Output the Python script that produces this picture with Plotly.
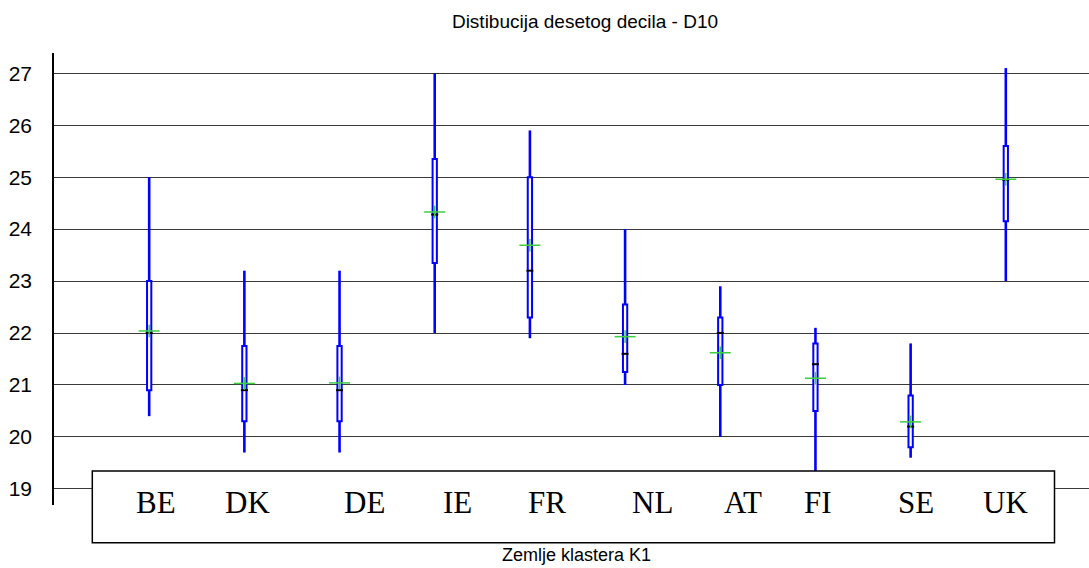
import plotly.graph_objects as go

# ---- data ----
countries = ["BE", "DK", "DE", "IE", "FR", "NL", "AT", "FI", "SE", "UK"]
whisker_low = [20.4, 19.7, 19.7, 22.0, 21.9, 21.0, 20.0, 19.2, 19.6, 23.0]
q1 = [20.9, 20.3, 20.3, 23.35, 22.3, 21.25, 21.0, 20.5, 19.8, 24.15]
median = [22.0, 20.9, 20.9, 24.28, 23.2, 21.6, 22.0, 21.4, 20.2, 24.95]
q3 = [23.0, 21.75, 21.75, 25.35, 25.0, 22.55, 22.3, 21.8, 20.8, 25.6]
whisker_high = [25.0, 23.2, 23.2, 27.0, 25.9, 24.0, 22.9, 22.1, 21.8, 27.1]
mean = [22.04, 21.03, 21.04, 24.33, 23.69, 21.93, 21.62, 21.13, 20.29, 24.96]
y_ticks = [19, 20, 21, 22, 23, 24, 25, 26, 27]

title_text = "Distibucija desetog decila - D10"
x_title_text = "Zemlje klastera K1"

# ---- layout constants (pixels) ----
W, H = 1089, 568
PL, PR, PT, PB = 54, 1089, 53, 505
label_px = [156, 247, 364, 457, 547, 652, 743, 818, 916, 1005]

def px_x(p):
    return (p - PL) / (PR - PL)

def px_y(p):
    return (PB - p) / (PB - PT)

xs = list(range(1, len(countries) + 1))
BLUE = "#0000ff"

fig = go.Figure()

# boxes (white fill, blue outline)
fig.add_trace(go.Bar(
    x=xs, base=q1, y=[b - a for a, b in zip(q1, q3)], width=0.045,
    marker=dict(color="white", line=dict(color=BLUE, width=2)),
    hoverinfo="skip", showlegend=False))

# whiskers
wx, wy = [], []
for x, lo, a, b, hi in zip(xs, whisker_low, q1, q3, whisker_high):
    wx += [x, x, None, x, x, None]
    wy += [lo, a, None, b, hi, None]
fig.add_trace(go.Scatter(x=wx, y=wy, mode="lines",
                         line=dict(color=BLUE, width=2.6),
                         hoverinfo="skip", showlegend=False))

# medians
fig.add_trace(go.Scatter(x=xs, y=median, mode="markers",
                         marker=dict(symbol="line-ew", size=5,
                                     line=dict(color="black", width=2)),
                         hoverinfo="skip", showlegend=False))

# means (green plus)
fig.add_trace(go.Scatter(x=xs, y=mean, mode="markers",
                         marker=dict(symbol="line-ew", size=15,
                                     line=dict(color="#3ccf3c", width=1.5)),
                         hoverinfo="skip", showlegend=False))
fig.add_trace(go.Scatter(x=xs, y=mean, mode="markers",
                         marker=dict(symbol="line-ns", size=9,
                                     line=dict(color="#3ccf3c", width=1.5)),
                         hoverinfo="skip", showlegend=False))

# legend-like box with country labels
fig.add_shape(type="rect", xref="paper", yref="paper",
              x0=px_x(92.3), x1=px_x(1054.5), y0=px_y(542.7), y1=px_y(471),
              line=dict(color="black", width=1.5), fillcolor="white",
              layer="above")
for name, p in zip(countries, label_px):
    fig.add_annotation(x=px_x(p), y=px_y(502), xref="paper", yref="paper",
                       text=name, showarrow=False, xanchor="center",
                       yanchor="middle",
                       font=dict(family="Liberation Serif", size=31,
                                 color="black"))

fig.add_annotation(x=px_x(576), y=px_y(555), xref="paper", yref="paper",
                   text=x_title_text, showarrow=False, xanchor="center",
                   yanchor="middle",
                   font=dict(family="Liberation Sans", size=18, color="black"))

fig.update_layout(
    width=W, height=H,
    margin=dict(l=PL, r=W - PR, t=PT, b=H - PB, pad=0),
    paper_bgcolor="white", plot_bgcolor="white",
    title=dict(text=title_text, x=585 / W, xanchor="center",
               y=1 - 21 / H, yanchor="middle",
               font=dict(family="Liberation Sans", size=19, color="black")),
    barmode="overlay",
    showlegend=False,
    xaxis=dict(range=[0, 10.874], showticklabels=False, showgrid=False,
               zeroline=False, showline=False, ticks=""),
    yaxis=dict(range=[18.69, 27.39], tickvals=y_ticks,
               showline=True, linecolor="black", linewidth=1.5,
               showgrid=True, gridcolor="#3a3a3a", gridwidth=1,
               zeroline=False, ticks="", ticklabelstandoff=16,
               tickfont=dict(family="Liberation Sans", size=21,
                             color="black")),
)

fig.write_html("out.html",
               config={"displayModeBar": False},
               post_script="document.body.style.margin='0';"
                           "document.body.style.overflow='hidden';")
